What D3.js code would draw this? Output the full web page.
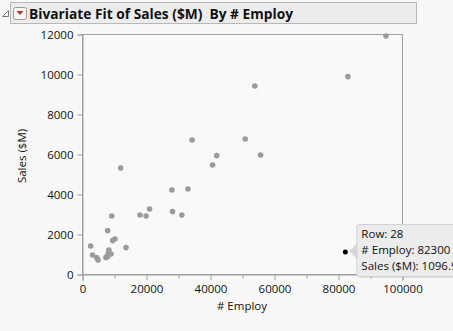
<!DOCTYPE html>
<html>
<head>
<meta charset="utf-8">
<script src="https://cdn.jsdelivr.net/npm/d3@7"></script>
<style>
  html, body { margin: 0; padding: 0; background: #f8f8f8; }
  svg { display: block; }
  text { font-family: "Open Sans", "Noto Sans", sans-serif; fill: #111; }
</style>
</head>
<body>
<svg id="chart" width="453" height="331"></svg>
<script>
// # Employ per company
const employ = [95000, 83100, 54000, 34400, 51000, 42100, 40800, 55800, 12100, 28100,
                33100, 21100, 18100, 20000, 28300, 31200, 9300, 8000, 10300, 9600,
                13750, 2700, 3300, 4600, 5000, 8400, 8200, 82300, 9060, 7500, 8000];
// Sales ($M) per company
const sales = [11900, 9870, 9400, 6700, 6750, 5920, 5450, 5950, 5300, 4200,
               4250, 3250, 2950, 2900, 3120, 2950, 2900, 2170, 1750, 1670,
               1320, 1400, 950, 820, 700, 1200, 1030, 1096.9, 1000, 830, 870];
const rowIds = d3.range(1, employ.length + 1);
const selectedRow = 28;

const xTicks = [0, 20000, 40000, 60000, 80000, 100000];
const xMinorTicks = [10000, 30000, 50000, 70000, 90000];
const yTicks = [0, 2000, 4000, 6000, 8000, 10000, 12000];

const titleText = "Bivariate Fit of Sales ($M)  By # Employ";
const xLabel = "# Employ";
const yLabel = "Sales ($M)";

const svg = d3.select("#chart");
const plotL = 82, plotR = 402, plotT = 34, plotB = 274;

const x = d3.scaleLinear().domain([0, 100000]).range([plotL, plotR]);
const y = d3.scaleLinear().domain([0, 12000]).range([plotB, plotT]);

// Outline header
const head = svg.append("g");
head.append("path")
  .attr("d", "M2.5,16.5 L8.5,10.5 L8.5,16.5 Z")
  .attr("fill", "none").attr("stroke", "#777").attr("stroke-width", 1);
head.append("rect")
  .attr("x", 10.5).attr("y", 2.5).attr("width", 406).attr("height", 21)
  .attr("fill", "#ececec").attr("stroke", "#b8b8b8");
head.append("rect")
  .attr("x", 13.5).attr("y", 7.5).attr("width", 13).attr("height", 12).attr("rx", 2)
  .attr("fill", "#f6f6f6").attr("stroke", "#9a9a9a");
head.append("path")
  .attr("d", "M16.5,11 L23.5,11 L20,15 Z").attr("fill", "#b03a2e");
head.append("text")
  .attr("x", 29).attr("y", 18.5)
  .attr("font-size", 14).attr("font-weight", "bold")
  .style("white-space", "pre")
  .attr("textLength", 264).attr("lengthAdjust", "spacingAndGlyphs")
  .text(titleText);

// Plot frame
svg.append("rect")
  .attr("x", plotL + 0.5).attr("y", plotT + 0.5)
  .attr("width", plotR - plotL).attr("height", plotB - plotT)
  .attr("fill", "#f9f9f9").attr("stroke", "#a0a0a0");

// X axis
const xAxis = d3.axisBottom(x).tickValues(xTicks).tickFormat(d3.format("d"))
  .tickSizeOuter(0).tickSize(6).tickPadding(4);
const gx = svg.append("g").attr("transform", `translate(0.5,${plotB + 0.5})`).call(xAxis);
gx.select(".domain").attr("stroke", "#a0a0a0");
gx.selectAll(".tick line").attr("stroke", "#a0a0a0");
gx.selectAll(".tick text").attr("font-size", 11.5).attr("fill", "#111")
  .style("font-family", "'Open Sans', sans-serif");
svg.append("g").attr("transform", `translate(0.5,${plotB + 0.5})`)
  .call(d3.axisBottom(x).tickValues(xMinorTicks).tickFormat("").tickSize(4).tickSizeOuter(0))
  .call(g => g.select(".domain").remove())
  .selectAll("line").attr("stroke", "#a0a0a0");

// Y axis
const yAxis = d3.axisLeft(y).tickValues(yTicks).tickFormat(d3.format("d"))
  .tickSizeOuter(0).tickSize(5).tickPadding(4);
const gy = svg.append("g").attr("transform", `translate(${plotL + 0.5},0.5)`).call(yAxis);
gy.select(".domain").attr("stroke", "#a0a0a0");
gy.selectAll(".tick line").attr("stroke", "#a0a0a0");
gy.selectAll(".tick text").attr("font-size", 11.5).attr("fill", "#111")
  .style("font-family", "'Open Sans', sans-serif");

// Axis titles
svg.append("text")
  .attr("x", (plotL + plotR) / 2).attr("y", 310)
  .attr("text-anchor", "middle").attr("font-size", 11.5)
  .text(xLabel);
svg.append("text")
  .attr("transform", `translate(26,${(plotT + plotB) / 2 + 2}) rotate(-90)`)
  .attr("text-anchor", "middle").attr("font-size", 11.5)
  .text(yLabel);

// Points
const pts = rowIds.map((r, i) => ({ row: r, ex: employ[i], s: sales[i] }));
svg.append("g").selectAll("circle")
  .data(pts.filter(d => d.row !== selectedRow))
  .join("circle")
  .attr("cx", d => x(d.ex)).attr("cy", d => y(d.s))
  .attr("r", 2.8).attr("fill", "#9b9b9b");

// Hover label for the selected row
const sel = pts.find(d => d.row === selectedRow);
const sx = x(sel.ex), sy = y(sel.s);
const tip = svg.append("g");
tip.append("rect")
  .attr("x", sx + 12.5).attr("y", sy - 27.5).attr("width", 110).attr("height", 52)
  .attr("rx", 2)
  .attr("fill", "#000").attr("opacity", 0.08)
  .attr("transform", "translate(1.5,1.5)");
tip.append("path")
  .attr("d", `M${sx + 4},${sy - 1} L${sx + 12},${sy - 9} L${sx + 12},${sy + 8} Z`)
  .attr("fill", "#d8d8d8");
tip.append("rect")
  .attr("x", sx + 11.5).attr("y", sy - 27.5).attr("width", 110).attr("height", 52)
  .attr("rx", 2)
  .attr("fill", "#ececec").attr("stroke", "#cfcfcf");
const tipLines = [`Row: ${sel.row}`, `# Employ: ${sel.ex}`, `Sales ($M): ${sel.s}`];
tip.selectAll("text").data(tipLines).join("text")
  .attr("x", sx + 16).attr("y", (d, i) => sy - 14 + i * 16)
  .attr("font-size", 11.5).text(d => d);
svg.append("circle")
  .attr("cx", sx).attr("cy", sy).attr("r", 2.5).attr("fill", "#000");
</script>
</body>
</html>
